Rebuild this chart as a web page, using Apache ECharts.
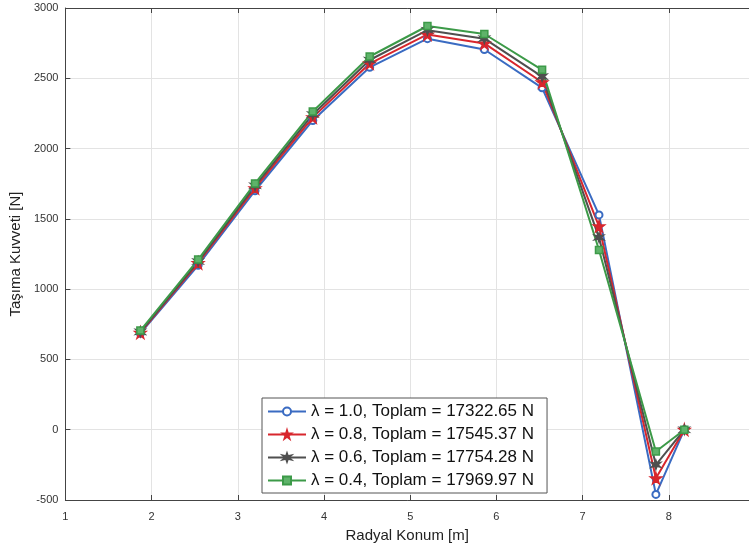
<!DOCTYPE html>
<html>
<head>
<meta charset="utf-8">
<script src="https://cdn.jsdelivr.net/npm/echarts@6/dist/echarts.min.js"></script>
<style>
  html, body { margin: 0; padding: 0; background: #fff; }
  #main { width: 749px; height: 548px; }
</style>
</head>
<body>
<div id="main"></div>
<script>
// radial positions [m]
var radius = [1.87, 2.54, 3.2, 3.87, 4.53, 5.2, 5.86, 6.53, 7.19, 7.85, 8.18];
// lift force [N] per lambda
var lift10 = [685, 1170, 1700, 2200, 2578, 2782, 2705, 2432, 1528, -460, 0];
var lift08 = [690, 1185, 1718, 2222, 2605, 2812, 2748, 2472, 1447, -345, 0];
var lift06 = [696, 1196, 1735, 2243, 2630, 2842, 2782, 2512, 1367, -250, 0];
var lift04 = [705, 1210, 1752, 2264, 2655, 2872, 2815, 2560, 1278, -155, 0];
var legendNames = [
  "λ = 1.0, Toplam = 17322.65 N",
  "λ = 0.8, Toplam = 17545.37 N",
  "λ = 0.6, Toplam = 17754.28 N",
  "λ = 0.4, Toplam = 17969.97 N"
];

var starPath = "path://M50,0 L61,35 L98,35 L68,57 L79,91 L50,70 L21,91 L32,57 L2,35 L39,35 Z";
var asteriskPath = "path://M50,0 L60,33 L93,25 L70,50 L93,75 L60,67 L50,100 L40,67 L7,75 L30,50 L7,25 L40,33 Z";

function pairs(vals) {
  return radius.map(function (r, i) {
    return [r, vals[i]];
  });
}

function makeSeries(name, vals, color, symbol, size, fill) {
  return {
    name: name,
    type: "line",
    data: pairs(vals),
    symbol: symbol,
    symbolSize: size,
    showSymbol: true,
    lineStyle: { color: color, width: 2 },
    itemStyle: { color: fill, borderColor: color, borderWidth: 1.5 },
    emphasis: { disabled: true },
    z: 2
  };
}

var myChart = echarts.init(document.getElementById("main"));
var axisColor = "#444";
var option = {
  animation: false,
  textStyle: { fontFamily: "Liberation Sans, Arial, sans-serif" },
  grid: { left: 64, right: 0, top: 8, bottom: 47 },
  legend: {
    orient: "vertical",
    left: 262,
    top: 398,
    data: legendNames,
    backgroundColor: "#fff",
    borderColor: "#555",
    borderWidth: 1,
    padding: [5, 13, 4, 5],
    itemGap: 6,
    itemWidth: 38,
    itemHeight: 10,
    textStyle: { fontSize: 17, color: "#111" },
    selectedMode: false
  },
  xAxis: [
    {
      type: "value",
      min: 1,
      max: 8.93,
      interval: 1,
      name: "Radyal Konum [m]",
      nameLocation: "middle",
      nameGap: 28,
      nameTextStyle: { fontSize: 15, color: "#222" },
      axisLine: { onZero: false, lineStyle: { color: axisColor } },
      axisTick: { inside: true, length: 5, lineStyle: { color: axisColor } },
      axisLabel: { fontSize: 11, color: "#333", margin: 11, showMaxLabel: false },
      splitLine: { show: true, lineStyle: { color: "#e3e3e3" } }
    },
    {
      type: "value",
      position: "top",
      min: 1,
      max: 8.93,
      interval: 1,
      axisLine: { show: true, onZero: false, lineStyle: { color: axisColor } },
      axisTick: { inside: true, length: 5, lineStyle: { color: axisColor } },
      axisLabel: { show: false },
      splitLine: { show: false }
    }
  ],
  yAxis: {
    type: "value",
    min: -500,
    max: 3000,
    interval: 500,
    name: "Taşıma Kuvveti [N]",
    nameLocation: "middle",
    nameGap: 38,
    nameTextStyle: { fontSize: 15, color: "#222" },
    axisLine: { show: true, onZero: false, lineStyle: { color: axisColor } },
    axisTick: { show: true, inside: true, length: 5, lineStyle: { color: axisColor } },
    axisLabel: {
      fontSize: 11,
      color: "#333",
      margin: 7,
      formatter: function (v) { return String(v); }
    },
    splitLine: { show: true, lineStyle: { color: "#e3e3e3" } }
  },
  series: [
    makeSeries(legendNames[0], lift10, "#3a6bc2", "emptyCircle", 7, "#3a6bc2"),
    makeSeries(legendNames[1], lift08, "#d8262d", starPath, 11, "#d8262d"),
    makeSeries(legendNames[2], lift06, "#4f4f4f", asteriskPath, 9, "#4f4f4f"),
    makeSeries(legendNames[3], lift04, "#3c9a48", "rect", 7, "#5fb36a")
  ]
};
myChart.setOption(option);
</script>
</body>
</html>
